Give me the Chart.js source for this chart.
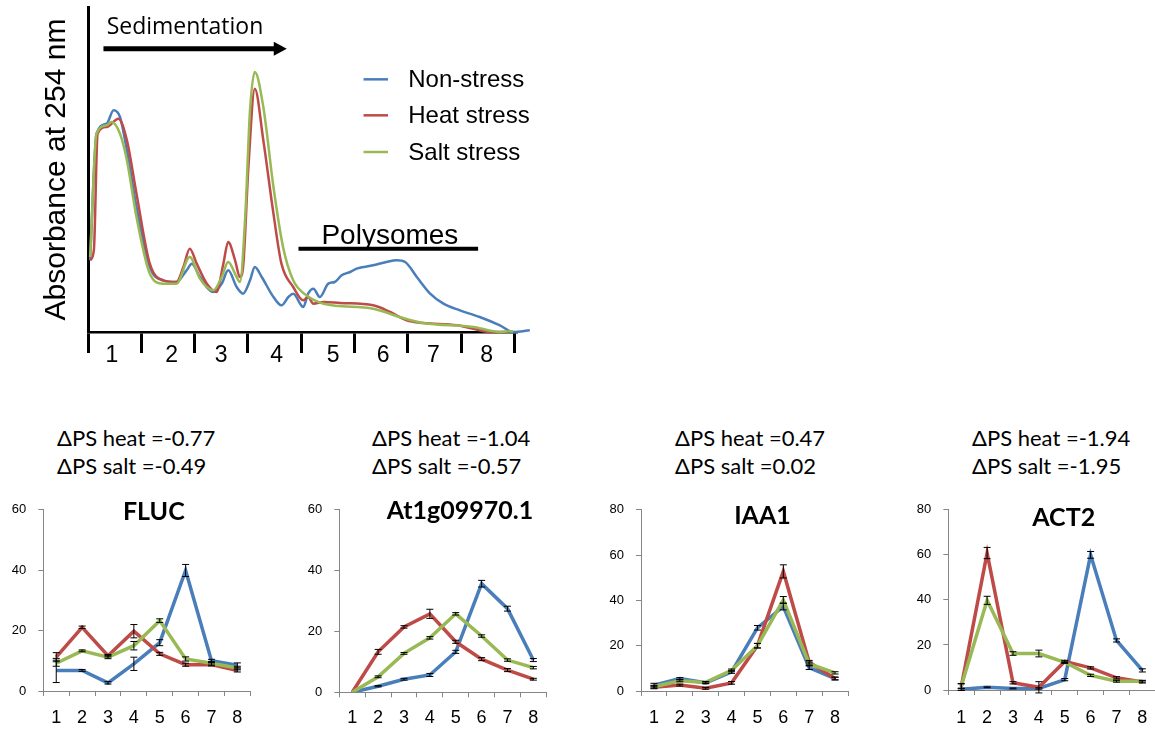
<!DOCTYPE html>
<html>
<head>
<meta charset="utf-8">
<script src="https://cdn.jsdelivr.net/npm/chart.js@4.4.0/dist/chart.umd.min.js"></script>
<style>
    body { margin: 0; width: 1155px; height: 729px; overflow: hidden; background: #fff; position: relative; }
    canvas { position: absolute; }
    .dps { position: absolute; top: 424px; font-family: Lato, sans-serif; font-size: 22px; line-height: 28px; color: #000; white-space: nowrap; }
</style>
</head>
<body>
<canvas id="profile" style="left:0;top:0" width="560" height="380"></canvas>
<div id="panels"></div>
<script>
// DATA BEGIN

const fractions = ['1', '2', '3', '4', '5', '6', '7', '8'];
const fractionEdges = [0, 1, 2, 3, 4, 5, 6, 7, 8];
const fractionLabelPos = [0.45, 1.57, 2.5, 3.54, 4.6, 5.54, 6.48, 7.48];
const conditions = ['Non-stress', 'Heat stress', 'Salt stress'];

// absorbance traces: [position in fractions, absorbance (arbitrary units)]
const nonStressTrace = [[0.04, 21.5], [0.16, 59.5], [0.35, 62.5], [0.48, 66.5], [0.60, 64.5], [0.73, 54.5], [0.91, 37.5], [1.16, 19.5], [1.41, 15.5], [1.66, 15], [1.85, 18.5], [1.95, 20.5], [2.10, 16.5], [2.35, 12], [2.51, 14.5], [2.63, 18.5], [2.79, 13.5], [2.91, 11.5], [3.04, 15.5], [3.13, 19.5], [3.26, 16.5], [3.48, 10.5], [3.63, 8], [3.76, 10.5], [3.85, 11.5], [4.04, 7.5], [4.13, 11.5], [4.23, 13], [4.35, 10.5], [4.51, 14.5], [4.63, 15], [4.76, 17], [4.92, 18], [5.04, 19], [5.35, 20], [5.60, 21], [5.79, 21.5], [5.95, 21], [6.17, 16.5], [6.42, 11.5], [6.67, 8.5], [6.98, 6.5], [7.35, 4.5], [7.73, 2], [7.98, 0], [8.29, 0.5]];
const heatTrace = [[0.04, 21.5], [0.11, 24.5], [0.18, 59.5], [0.35, 61.5], [0.57, 64], [0.73, 57.5], [0.91, 41.5], [1.16, 20.5], [1.41, 15.5], [1.66, 15], [1.79, 19.5], [1.91, 25], [2.04, 20.5], [2.23, 14.5], [2.41, 12], [2.54, 20.5], [2.63, 27], [2.76, 21.5], [2.85, 16.5], [2.91, 19.5], [3.01, 49.5], [3.13, 73], [3.29, 57.5], [3.48, 35.5], [3.63, 20.5], [3.85, 13.5], [4.04, 9.5], [4.13, 10.5], [4.23, 8.5], [4.42, 9], [4.73, 8.7], [5.35, 8], [5.67, 6], [5.98, 3.5], [6.29, 2.7], [6.92, 2], [7.23, 1], [7.54, 0], [7.85, 0]];
const saltTrace = [[0.04, 22.5], [0.16, 59.5], [0.35, 62], [0.44, 63], [0.60, 59.5], [0.73, 51.5], [0.91, 34.5], [1.16, 17.5], [1.41, 14.5], [1.66, 14.5], [1.91, 22.5], [2.10, 16], [2.35, 12.5], [2.51, 16.5], [2.63, 21], [2.79, 16.5], [2.85, 15], [2.95, 34.5], [3.04, 66.5], [3.13, 78], [3.29, 67.5], [3.48, 43.5], [3.66, 25.5], [3.85, 15.5], [4.10, 11], [4.42, 8.5], [5.35, 7], [5.85, 4.5], [6.29, 2.7], [7.23, 1.5], [7.73, 0], [7.98, 0.2]];

// mRNA distribution per fraction (%)
const flucNonStress = [6.8, 6.8, 2.7, 9, 16, 39.9, 10, 8.5];
const flucNonStressErr = [4, 0.3, 0.4, 2.2, 1, 2, 0.5, 0.8];
const flucHeat = [11.2, 21.1, 11.7, 19.8, 12.3, 8.7, 8.8, 6.8];
const flucHeatErr = [1.5, 0.4, 0.4, 2.2, 0.5, 0.5, 0.5, 0.5];
const flucSalt = [9.2, 13.3, 11.2, 15, 23.3, 10.6, 9.2, 7.6];
const flucSaltErr = [1, 0.3, 0.5, 1.4, 0.6, 0.7, 0.6, 0.6];

const at1gNonStress = [0, 2, 4.3, 5.7, 13.3, 35.7, 27.5, 10.6];
const at1gNonStressErr = [0, 0.2, 0.3, 0.5, 0.5, 1.1, 0.8, 0.5];
const at1gHeat = [0, 13.3, 21.5, 25.8, 16.6, 10.9, 7.3, 4.3];
const at1gHeatErr = [0, 0.8, 0.4, 1.5, 0.5, 0.5, 0.5, 0.3];
const at1gSalt = [0, 5.1, 12.8, 17.9, 25.8, 18.5, 10.6, 8.1];
const at1gSaltErr = [0, 0.3, 0.3, 0.4, 0.4, 0.4, 0.4, 0.4];

const iaa1NonStress = [2.6, 5.5, 3.6, 8.4, 27.9, 37.3, 10.3, 5.5];
const iaa1NonStressErr = [0.8, 0.4, 0.4, 0.6, 1, 1.5, 0.8, 0.6];
const iaa1Heat = [1.6, 2.6, 1.2, 3.6, 20, 52.8, 12.7, 5.5];
const iaa1HeatErr = [0.6, 0.4, 0.4, 0.6, 1, 2.9, 0.8, 0.6];
const iaa1Salt = [1.9, 4.5, 3.8, 9.1, 20, 40.2, 12, 8];
const iaa1SaltErr = [0.6, 0.4, 0.4, 0.6, 1, 1.5, 0.8, 0.5];

const act2NonStress = [0.3, 1.2, 0.7, 0.7, 4.6, 60, 22, 8.7];
const act2NonStressErr = [0.5, 0.2, 0.2, 0.3, 0.5, 1.5, 0.7, 0.7];
const act2Heat = [1.4, 60.8, 3.2, 1.2, 12.7, 9.8, 5.4, 3.6];
const act2HeatErr = [1.5, 2.5, 0.5, 2.5, 0.5, 0.5, 0.5, 0.5];
const act2Salt = [1.7, 39.8, 16.2, 16.2, 12.3, 6.5, 3.9, 3.9];
const act2SaltErr = [1, 1.8, 0.8, 1.5, 0.5, 0.5, 0.4, 0.4];

const geneNames = ['FLUC', 'At1g09970.1', 'IAA1', 'ACT2'];
const dpsHeat = ['-0.77', '-1.04', '0.47', '-1.94'];
const dpsSalt = ['-0.49', '-0.57', '0.02', '-1.95'];
const panelMax = [60, 60, 80, 80];

// DATA END

const colors = ['#4a7ebb', '#be4b48', '#98b954'];
const drawOrder = [2, 1, 0];

// PROFILE CHART BEGIN

const profileDecor = {
    id: 'profileDecor',
    afterDraw(chart)
    {
        const ctx = chart.ctx;
        const x = chart.scales.x, y = chart.scales.y;
        ctx.save();
        ctx.fillStyle = '#000';
        ctx.strokeStyle = '#000';

        // sedimentation arrow
        let ay = y.getPixelForValue(85);
        let ax0 = x.getPixelForValue(0.29), ax1 = x.getPixelForValue(3.73);
        ctx.lineWidth = 5;
        ctx.beginPath();
        ctx.moveTo(ax0, ay);
        ctx.lineTo(ax1 - 10, ay);
        ctx.stroke();
        ctx.beginPath();
        ctx.moveTo(ax1, ay);
        ctx.lineTo(ax1 - 13, ay - 7);
        ctx.lineTo(ax1 - 13, ay + 7);
        ctx.closePath();
        ctx.fill();
        ctx.font = '23px "Open Sans"';
        ctx.textBaseline = 'alphabetic';
        ctx.fillText('Sedimentation', x.getPixelForValue(0.35), y.getPixelForValue(89.3));

        // polysomes label
        ctx.font = '28px "Liberation Sans"';
        ctx.fillText('Polysomes', x.getPixelForValue(4.38), y.getPixelForValue(26.5));
        ctx.lineWidth = 4;
        ctx.beginPath();
        ctx.moveTo(x.getPixelForValue(3.95), y.getPixelForValue(25));
        ctx.lineTo(x.getPixelForValue(7.32), y.getPixelForValue(25));
        ctx.stroke();

        // legend
        let legendY = [75.8, 65, 54];
        ctx.font = '24px "Liberation Sans"';
        ctx.textBaseline = 'middle';
        chart.data.datasets.forEach(function (ds, i)
        {
            let ly = y.getPixelForValue(legendY[i]);
            ctx.strokeStyle = ds.borderColor;
            ctx.lineWidth = 2.5;
            ctx.beginPath();
            ctx.moveTo(x.getPixelForValue(5.17), ly);
            ctx.lineTo(x.getPixelForValue(5.63), ly);
            ctx.stroke();
            ctx.fillStyle = '#000';
            ctx.fillText(ds.label, x.getPixelForValue(6.01), ly + 1.5);
        });
        ctx.restore();
    }
};

let traces = [nonStressTrace, heatTrace, saltTrace];

new Chart(document.getElementById('profile'),
{
    type: 'line',
    data: {
        datasets: traces.map(function (t, i)
        {
            return {
                label: conditions[i],
                data: t.map(p => ({x: p[0], y: p[1]})),
                borderColor: colors[i],
                borderWidth: 2.5,
                pointRadius: 0,
                cubicInterpolationMode: 'monotone',
                order: drawOrder[i],
                clip: false
            };
        })
    },
    options: {
        responsive: false,
        animation: false,
        layout: { padding: { left: 0, right: 43, top: 7, bottom: 0 } },
        plugins: { legend: { display: false }, tooltip: { enabled: false } },
        scales: {
            x: {
                type: 'linear', min: 0, max: 8.05,
                afterBuildTicks: function (s)
                {
                    s.ticks = fractionEdges.concat(fractionLabelPos).sort((a, b) => a - b).map(v => ({value: v}));
                },
                afterFit: function (s) { s.height = 48; },
                ticks: {
                    autoSkip: false, maxRotation: 0, padding: -11, color: '#000',
                    font: { family: 'Liberation Sans', size: 23 },
                    callback: function (v)
                    {
                        let i = fractionLabelPos.indexOf(v);
                        return i >= 0 ? fractions[i] : '';
                    }
                },
                grid: {
                    drawOnChartArea: false, tickLength: 21, tickWidth: 3,
                    tickColor: c => (c.tick && fractionEdges.includes(c.tick.value)) ? '#000' : 'rgba(0,0,0,0)'
                },
                border: { color: '#000', width: 2.5 }
            },
            y: {
                min: 0, max: 97.5,
                afterFit: function (s) { s.width = 88; },
                ticks: { display: false },
                grid: { display: false },
                border: { color: '#000', width: 3 },
                title: {
                    display: true, text: 'Absorbance at 254 nm', color: '#000',
                    font: { family: 'Liberation Sans', size: 30 },
                    padding: { top: 39, bottom: 0 }
                }
            }
        }
    },
    plugins: [profileDecor]
});

// PROFILE CHART END

// PANELS BEGIN

const errorBars = {
    id: 'errorBars',
    afterDatasetsDraw(chart)
    {
        const ctx = chart.ctx;
        const y = chart.scales.y;
        ctx.save();
        ctx.strokeStyle = '#000';
        ctx.lineWidth = 1;
        chart.data.datasets.forEach(function (ds, di)
        {
            let meta = chart.getDatasetMeta(di);
            meta.data.forEach(function (pt, i)
            {
                let e = ds.errors[i];
                if (!e) return;
                let top = y.getPixelForValue(ds.data[i] + e);
                let bot = y.getPixelForValue(ds.data[i] - e);
                ctx.beginPath();
                ctx.moveTo(pt.x, top); ctx.lineTo(pt.x, bot);
                ctx.moveTo(pt.x - 3.5, top); ctx.lineTo(pt.x + 3.5, top);
                ctx.moveTo(pt.x - 3.5, bot); ctx.lineTo(pt.x + 3.5, bot);
                ctx.stroke();
            });
        });
        ctx.restore();
    }
};

// move the gene title so it sits where the original figure has it
const titleShift = {
    id: 'titleShift',
    afterLayout(chart, args, opts)
    {
        let tb = chart.titleBlock;
        if (!tb) return;
        let half = (tb.right - tb.left) / 2;
        tb.left = opts.center - half;
        tb.right = opts.center + half;
    }
};

const panelLayout = [
    { left: 0,   width: 308, axisX: 43.3,  top: 506.7, bottom: 691,   titleX: 153.8,  titleY: 509,   textX: 57 },
    { left: 290, width: 340, axisX: 339.3, top: 509,   bottom: 692.3, titleX: 460,    titleY: 510,   textX: 372 },
    { left: 595, width: 335, axisX: 641,   top: 506.7, bottom: 691,   titleX: 762.5,  titleY: 513,   textX: 675 },
    { left: 900, width: 327, axisX: 948.3, top: 505.7, bottom: 690,   titleX: 1063.7, titleY: 513.5, textX: 972 }
];
const panelTop = 490, panelHeight = 239, plotWidth = 207, labelY = 718;

let panelSeries = [
    [[flucNonStress, flucNonStressErr], [flucHeat, flucHeatErr], [flucSalt, flucSaltErr]],
    [[at1gNonStress, at1gNonStressErr], [at1gHeat, at1gHeatErr], [at1gSalt, at1gSaltErr]],
    [[iaa1NonStress, iaa1NonStressErr], [iaa1Heat, iaa1HeatErr], [iaa1Salt, iaa1SaltErr]],
    [[act2NonStress, act2NonStressErr], [act2Heat, act2HeatErr], [act2Salt, act2SaltErr]]
];

panelLayout.forEach(function (p, k)
{
    let holder = document.getElementById('panels');

    let txt = document.createElement('div');
    txt.className = 'dps';
    txt.style.left = p.textX + 'px';
    txt.innerHTML = '\u0394PS heat =' + dpsHeat[k] + '<br>\u0394PS salt =' + dpsSalt[k];
    holder.appendChild(txt);

    let cv = document.createElement('canvas');
    cv.width = p.width;
    cv.height = panelHeight;
    cv.style.left = p.left + 'px';
    cv.style.top = panelTop + 'px';
    holder.appendChild(cv);

    let areaLeft = p.axisX - p.left;
    let areaRight = areaLeft + plotWidth;
    let areaTop = p.top - panelTop;
    let areaBottom = p.bottom - panelTop;
    let titlePadTop = (p.titleY - panelTop) - 15;
    let axisHeight = panelHeight - areaBottom;

    new Chart(cv,
    {
        type: 'line',
        data: {
            labels: fractions,
            datasets: panelSeries[k].map(function (s, i)
            {
                return {
                    label: conditions[i],
                    data: s[0],
                    errors: s[1],
                    borderColor: colors[i],
                    borderWidth: 3.5,
                    pointRadius: 0,
                    tension: 0,
                    order: drawOrder[i]
                };
            })
        },
        options: {
            responsive: false,
            animation: false,
            layout: { padding: { left: areaLeft - 45, right: p.width - areaRight, top: 0, bottom: 0 } },
            plugins: {
                legend: { display: false },
                tooltip: { enabled: false },
                title: {
                    display: true, text: geneNames[k], color: '#000',
                    font: { family: 'Lato', size: 25, weight: 'bold' },
                    padding: { top: titlePadTop, bottom: areaTop - 30 - titlePadTop }
                },
                titleShift: { center: p.titleX - p.left }
            },
            scales: {
                x: {
                    offset: true,
                    afterFit: function (s) { s.height = axisHeight; },
                    grid: { offset: true, drawOnChartArea: false, tickLength: 5, color: '#868686' },
                    border: { color: '#868686' },
                    ticks: {
                        autoSkip: false, maxRotation: 0, color: '#000',
                        padding: labelY - p.bottom - 5 - 10.8,
                        font: { family: 'Liberation Sans', size: 18 }
                    }
                },
                y: {
                    min: 0, max: panelMax[k],
                    afterFit: function (s) { s.width = 45; },
                    grid: { drawOnChartArea: false, tickLength: 5, color: '#868686' },
                    border: { color: '#868686' },
                    ticks: { stepSize: 20, padding: 12, color: '#000', font: { family: 'Liberation Sans', size: 13 } }
                }
            }
        },
        plugins: [errorBars, titleShift]
    });
});

// PANELS END
</script>
</body>
</html>
